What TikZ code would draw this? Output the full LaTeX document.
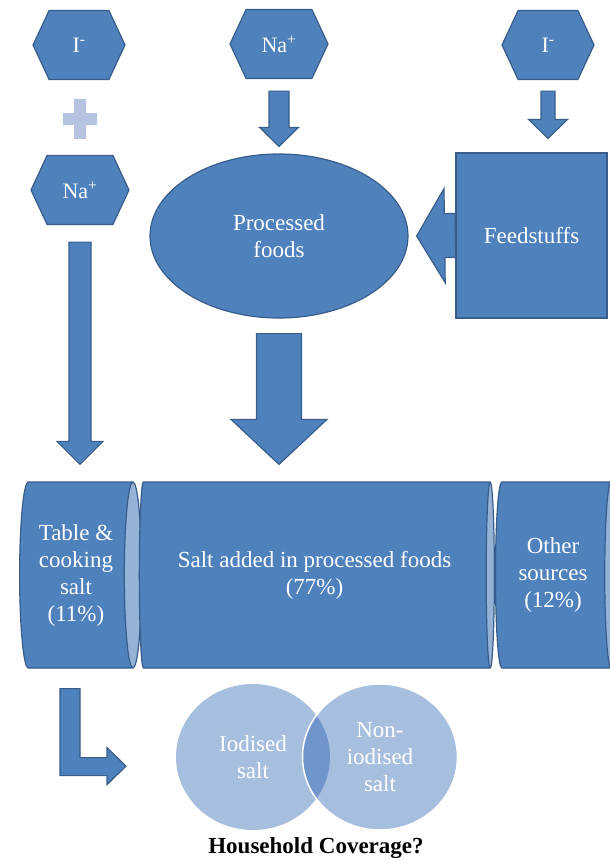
\documentclass[tikz,border=0pt]{standalone}
\usepackage{fontspec}
\setmainfont{Liberation Serif}
\usepackage{tikz}
\usetikzlibrary{shapes,arrows,positioning,calc}

\definecolor{mainblue}{HTML}{4F81BD}
\definecolor{bdrblue}{HTML}{385D8A}
\definecolor{capblue}{HTML}{95B3D7}
\definecolor{vennblue}{HTML}{A7BFDE}
\definecolor{lapblue}{HTML}{6F95CB}
\definecolor{plusblue}{HTML}{B6C4E2}

\begin{document}
\begin{tikzpicture}[x=1pt, y=-1pt,
    txt/.style={font=\fontsize{23}{27}\selectfont, text=white, align=center},
    hexnode/.style={signal, signal to=east and west, signal pointer angle=130,
        draw=bdrblue, line width=1.2pt, fill=mainblue, inner sep=0pt,
        minimum width=92pt, minimum height=69pt, text=white, font=\fontsize{22}{26}\selectfont},
    cyl/.style={txt, cylinder, aspect=0.17, draw=bdrblue, line width=1.2pt,
        cylinder uses custom fill, cylinder body fill=mainblue, cylinder end fill=capblue,
        minimum height=122pt, minimum width=186pt, inner sep=0pt},
    blockarrow/.style n args={3}{draw=bdrblue, fill=mainblue, line width=1.2pt,
        to path={
          ($(\tikztostart)!#1/2!90:(\tikztotarget)$)
          -- ($($(\tikztotarget)!#3!(\tikztostart)$)!#1/2!-90:(\tikztostart)$)
          -- ($($(\tikztotarget)!#3!(\tikztostart)$)!#2/2!-90:(\tikztostart)$)
          -- (\tikztotarget)
          -- ($($(\tikztotarget)!#3!(\tikztostart)$)!#2/2!90:(\tikztostart)$)
          -- ($($(\tikztotarget)!#3!(\tikztostart)$)!#1/2!90:(\tikztostart)$)
          -- ($(\tikztostart)!#1/2!-90:(\tikztotarget)$) -- cycle}},
    venn/.style={txt, ellipse, fill=vennblue, minimum width=154pt, minimum height=146pt, inner sep=0pt}]
    \useasboundingbox (0,0) rectangle (610,860);

    \node[hexnode] (iL) at (79,45) {I\textsuperscript{-}};
    \node[hexnode, minimum width=98pt] (naT) at (279,44) {Na\textsuperscript{+}};
    \node[hexnode] (iR) at (548,45) {I\textsuperscript{-}};
    \node[hexnode, minimum width=98pt] (naL) at (80,190) {Na\textsuperscript{+}};
    \fill[plusblue] (63,113) rectangle (97,125) (74,99) rectangle (86,139);

    \node[txt, ellipse, draw=bdrblue, line width=1.2pt, fill=mainblue,
          minimum width=258pt, minimum height=164pt] (proc) at (279,236) {Processed\\foods};
    \node[txt, draw=bdrblue, line width=1.2pt, fill=mainblue,
          minimum width=151pt, minimum height=165pt] (feed) at (531.5,235.5) {Feedstuffs};

    \node[cyl] (tbl) at (76,575) {Table \&\\cooking\\salt\\(11\%)};
    \node[cyl, minimum height=355pt] (mid) at (314.5,575) {Salt added in processed foods\\(77\%)};
    \node[cyl] (oth) at (553,575) {Other\\sources\\(12\%)};

    \draw[blockarrow={20pt}{39pt}{19pt}] ([yshift=-12pt]naT.south) to ([yshift=7pt]proc.north);
    \draw[blockarrow={14pt}{39pt}{19pt}] ([yshift=-11pt]iR.south) to ($(iR.south |- feed.north)+(0,-14)$);
    \draw[blockarrow={44pt}{94pt}{28pt}] (feed.west) to ([xshift=8pt]proc.east);
    \draw[blockarrow={22pt}{46pt}{23pt}] ([yshift=-17pt]naL.south) to ($(naL.south |- tbl.north)+(0,-17)$);
    \draw[blockarrow={45pt}{96pt}{45pt}] ([yshift=-15pt]proc.south) to ($(proc.south |- mid.north)+(0,-17)$);

    % household split
    \node[venn] (iod) at (253,757) {Iodised\\salt};
    \node[venn, minimum width=155pt] (non) at (380,757) {Non-\\iodised\\salt};
    \begin{scope}
      \clip (iod.center) ellipse [x radius=77, y radius=73];
      \fill[lapblue] (non.center) ellipse [x radius=77.5, y radius=73];
    \end{scope}
    \draw[white, line width=1.5pt] (non.center) ellipse [x radius=77.5, y radius=73];
    \draw[draw=bdrblue, fill=mainblue, line width=1.2pt] ($(tbl.south)+(-16,20)$) -- ++(0,87) -- ++(47,0)
        -- ++(0,9) -- ++(19,-18.5) -- ++(-19,-18.5) -- ++(0,10) -- ++(-27,0) -- ++(0,-69) -- cycle;
    \node[font=\fontsize{23}{27}\selectfont\bfseries] (cov) at (316,848) {Household Coverage?};
\end{tikzpicture}
\end{document}
